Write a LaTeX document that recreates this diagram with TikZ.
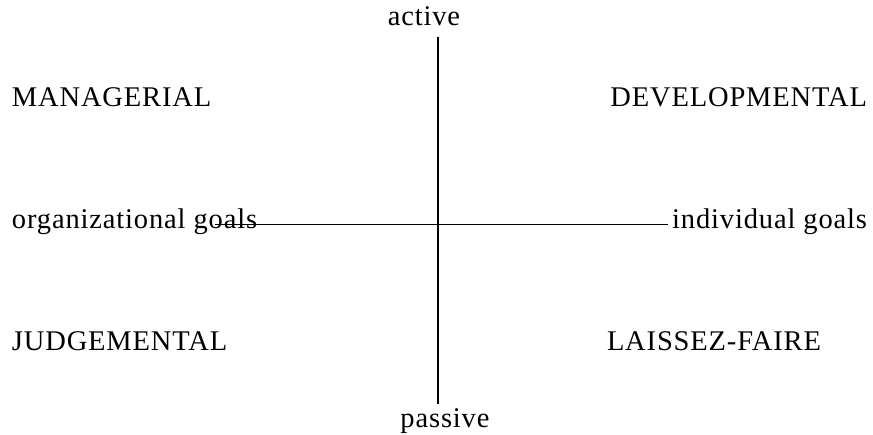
\documentclass[tikz,border=0pt]{standalone}
\usepackage{fontspec}
\setmainfont{Liberation Serif}[LetterSpace=3]
\begin{document}
\begin{tikzpicture}[x=1pt,y=-1pt,
  lbl/.style={anchor=base west,inner sep=0pt,outer sep=0pt,font=\fontsize{28.5}{30}\selectfont},
  axis/.style={line width=1.3pt,black}]
\useasboundingbox (0,0) rectangle (873,434);
\node[lbl] (man) at (12,106) {MANAGERIAL};
\node[lbl,anchor=base east] (dev) at (867,106) {DEVELOPMENTAL};
\node[lbl] (jud) at (12,350) {JUDGEMENTAL};
\node[lbl] (lai) at (607,350) {LAISSEZ-FAIRE};
\node[lbl] (org) at (12,228) {organizational goals};
\node[lbl,anchor=base east] (ind) at (867,228) {individual goals};
\node[lbl,anchor=base] (act) at (424,25) {active};
\node[lbl,anchor=base] (pas) at (445,427) {passive};
\coordinate (top) at (438,37);
\coordinate (bot) at (438,404);
\coordinate (lft) at (215,224.5);
\coordinate (rgt) at (668,224.5);
\draw[axis] (top) -- (bot);
\draw[axis] (lft) -- (rgt);
\end{tikzpicture}
\end{document}
